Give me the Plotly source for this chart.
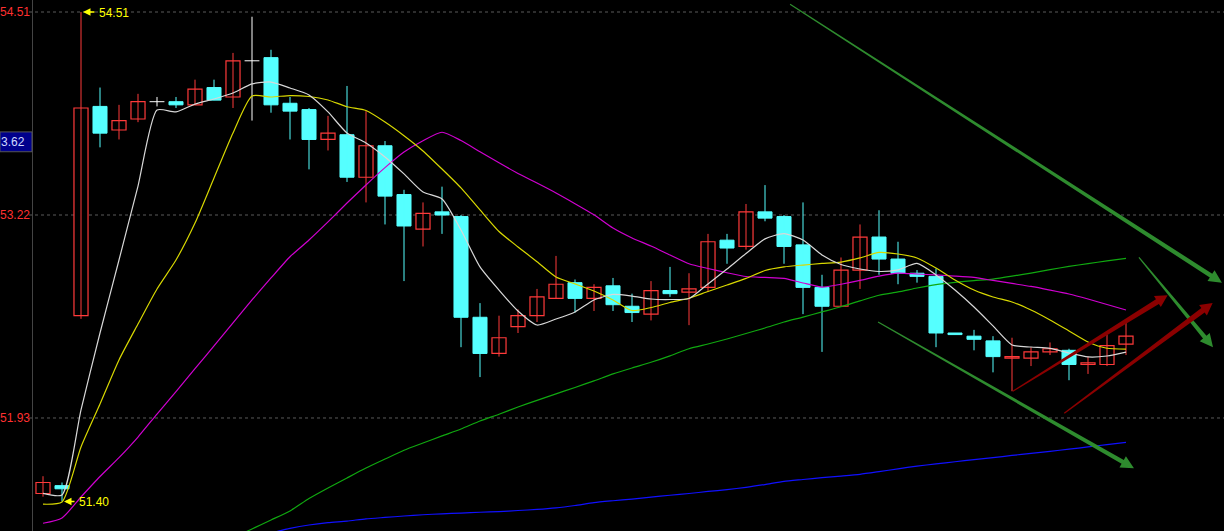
import math
import plotly.graph_objects as go

# ---------------- data ----------------
OPEN = [51.45, 51.50, 52.58, 53.91, 53.76, 53.83, 53.94, 53.94, 53.92, 54.03,
        53.97, 54.20, 54.22, 53.93, 53.89, 53.70, 53.73, 53.46, 53.66, 53.35,
        53.13, 53.24, 53.21, 52.57, 52.34, 52.51, 52.58, 52.69, 52.79, 52.69,
        52.77, 52.64, 52.59, 52.74, 52.73, 52.76, 53.06, 53.02, 53.24, 53.21,
        53.03, 52.76, 52.64, 52.87, 53.08, 52.94, 52.85, 52.83, 52.47, 52.45,
        52.42, 52.31, 52.31, 52.35, 52.36, 52.27, 52.27, 52.40]
HIGH = [51.56, 51.52, 54.51, 54.03, 53.92, 53.99, 53.97, 53.97, 54.08, 54.08,
        54.25, 54.48, 54.27, 53.97, 53.90, 53.85, 54.04, 53.88, 53.69, 53.38,
        53.30, 53.40, 53.22, 52.66, 52.58, 52.62, 52.75, 52.96, 52.81, 52.78,
        52.82, 52.72, 52.80, 52.89, 52.85, 53.10, 53.10, 53.29, 53.41, 53.22,
        53.30, 52.84, 52.95, 53.16, 53.25, 53.05, 52.87, 52.88, 52.47, 52.49,
        52.45, 52.44, 52.38, 52.41, 52.37, 52.32, 52.46, 52.54]
LOW = [51.43, 51.40, 52.56, 53.65, 53.70, 53.81, 53.91, 53.90, 53.92, 53.95,
       53.90, 53.82, 53.87, 53.70, 53.51, 53.63, 53.43, 53.30, 53.16, 52.80,
       53.02, 53.10, 52.38, 52.19, 52.32, 52.47, 52.54, 52.69, 52.60, 52.61,
       52.61, 52.54, 52.55, 52.70, 52.52, 52.73, 52.91, 53.00, 53.18, 52.91,
       52.59, 52.35, 52.64, 52.75, 52.84, 52.78, 52.79, 52.38, 52.46, 52.36,
       52.22, 52.10, 52.26, 52.33, 52.17, 52.21, 52.26, 52.33]
CLOSE = [51.52, 51.48, 53.90, 53.74, 53.82, 53.94, 53.94, 53.92, 54.02, 53.95,
         54.20, 54.20, 53.92, 53.88, 53.70, 53.74, 53.46, 53.66, 53.34, 53.15,
         53.23, 53.22, 52.57, 52.34, 52.44, 52.58, 52.70, 52.78, 52.69, 52.76,
         52.65, 52.60, 52.74, 52.72, 52.75, 53.05, 53.01, 53.24, 53.20, 53.02,
         52.76, 52.64, 52.87, 53.08, 52.94, 52.85, 52.83, 52.47, 52.46, 52.43,
         52.32, 52.32, 52.35, 52.37, 52.27, 52.28, 52.39, 52.45]

MA_WHITE = [51.451, 51.441, 51.981, 52.470, 52.934, 53.404, 53.887, 53.875, 53.925, 53.957,
            53.995, 54.053, 54.065, 54.027, 53.983, 53.875, 53.741, 53.678, 53.589, 53.481,
            53.366, 53.322, 53.125, 52.890, 52.743, 52.610, 52.521, 52.559, 52.604, 52.680,
            52.715, 52.705, 52.686, 52.683, 52.689, 52.782, 52.877, 52.975, 53.068, 53.102,
            53.061, 52.966, 52.905, 52.877, 52.861, 52.871, 52.912, 52.839, 52.743, 52.635,
            52.515, 52.394, 52.381, 52.372, 52.343, 52.318, 52.324, 52.349]
MA_YELLOW = [51.382, 51.396, 51.746, 52.019, 52.299, 52.527, 52.750, 52.934, 53.169, 53.455,
             53.741, 53.976, 53.970, 53.979, 53.973, 53.951, 53.908, 53.884, 53.811, 53.724,
             53.627, 53.512, 53.392, 53.252, 53.115, 53.017, 52.923, 52.826, 52.782, 52.737,
             52.680, 52.613, 52.632, 52.664, 52.691, 52.734, 52.775, 52.817, 52.867, 52.890,
             52.902, 52.912, 52.921, 52.947, 52.982, 52.972, 52.947, 52.883, 52.807, 52.743,
             52.699, 52.667, 52.616, 52.553, 52.483, 52.413, 52.373, 52.367]
MA_MAGENTA = [51.261, 51.295, 51.428, 51.558, 51.678, 51.809, 51.955, 52.098, 52.243, 52.388,
              52.534, 52.680, 52.820, 52.955, 53.061, 53.176, 53.296, 53.411, 53.521, 53.620,
              53.692, 53.746, 53.693, 53.622, 53.552, 53.484, 53.423, 53.360, 53.292, 53.221,
              53.137, 53.074, 53.023, 52.966, 52.910, 52.880, 52.853, 52.829, 52.823, 52.817,
              52.788, 52.762, 52.780, 52.804, 52.832, 52.851, 52.845, 52.839, 52.832, 52.823,
              52.804, 52.785, 52.766, 52.743, 52.718, 52.686, 52.651, 52.616]
MA_GREEN = [None] * 10 + [
    51.167, 51.225, 51.282, 51.339, 51.418, 51.485, 51.549, 51.612, 51.669, 51.725,
    51.771, 51.816, 51.860, 51.911, 51.954, 52.000, 52.042, 52.083, 52.124, 52.166,
    52.210, 52.248, 52.284, 52.325, 52.370, 52.400, 52.432, 52.467, 52.502, 52.540,
    52.571, 52.604, 52.637, 52.674, 52.710, 52.731, 52.756, 52.778, 52.792, 52.803,
    52.813, 52.831, 52.851, 52.873, 52.893, 52.911, 52.928, 52.944]
MA_BLUE = [None] * 12 + [
    51.199, 51.228, 51.250, 51.265, 51.275, 51.289, 51.298, 51.307, 51.315, 51.321,
    51.326, 51.331, 51.335, 51.342, 51.349, 51.359, 51.374, 51.392, 51.404, 51.415,
    51.427, 51.439, 51.450, 51.463, 51.475, 51.489, 51.507, 51.527, 51.539, 51.551,
    51.561, 51.572, 51.589, 51.607, 51.624, 51.638, 51.652, 51.665, 51.678, 51.692,
    51.705, 51.718, 51.732, 51.746, 51.761, 51.775]

GRID_LEVELS = [54.51, 53.22, 51.93]
GRID_LABELS = ["54.51", "53.22", "51.93"]

# hand-drawn trend arrows (candle index, price)
GREEN_ARROWS = [((39.32, 54.56), (62.05, 52.79)),
                ((57.68, 52.95), (61.58, 52.38)),
                ((43.95, 52.54), (57.42, 51.61))]
RED_ARROWS = [((51.04, 52.10), (59.19, 52.71)),
              ((53.75, 51.96), (61.56, 52.66))]

# ---------------- layout constants ----------------
W, H = 1224, 531
XR = [-43 / 19, (W - 43) / 19]
YR = [51.2118, 54.5863]

RED = "#ff3a3a"
CYAN = "#55ffff"
N = len(OPEN)
X = list(range(N))


def to_px(x, y):
    return ((x - XR[0]) / (XR[1] - XR[0]) * W, (YR[1] - y) / (YR[1] - YR[0]) * H)


def to_data(px, py):
    return (XR[0] + px / W * (XR[1] - XR[0]), YR[1] - py / H * (YR[1] - YR[0]))


fig = go.Figure()

# wicks
groups = {"up": ([], []), "down": ([], []), "flat": ([], [])}
for i in range(N):
    kind = "up" if CLOSE[i] > OPEN[i] else ("down" if CLOSE[i] < OPEN[i] else "flat")
    gx, gy = groups[kind]
    gx += [i, i, None]
    gy += [LOW[i], HIGH[i], None]
    if kind == "flat":
        gx += [i - 0.39, i + 0.39, None]
        gy += [OPEN[i], OPEN[i], None]
wick_colors = {"up": RED, "down": CYAN, "flat": "#ffffff"}
for k, (gx, gy) in groups.items():
    fig.add_trace(go.Scatter(x=gx, y=gy, mode="lines",
                             line=dict(color=wick_colors[k], width=1),
                             hoverinfo="skip", showlegend=False))

# bodies
up = [i for i in range(N) if CLOSE[i] > OPEN[i]]
dn = [i for i in range(N) if CLOSE[i] < OPEN[i]]
fig.add_trace(go.Bar(x=up, y=[CLOSE[i] - OPEN[i] for i in up], base=[OPEN[i] for i in up],
                     width=0.74, marker=dict(color="#000000", line=dict(color=RED, width=1.2)),
                     hoverinfo="skip", showlegend=False))
fig.add_trace(go.Bar(x=dn, y=[OPEN[i] - CLOSE[i] for i in dn], base=[CLOSE[i] for i in dn],
                     width=0.74, marker=dict(color=CYAN, line=dict(color=CYAN, width=1)),
                     hoverinfo="skip", showlegend=False))

# moving-average style lines
for vals, col in [(MA_BLUE, "#1010ff"), (MA_GREEN, "#10a810"), (MA_MAGENTA, "#d000d0"),
                  (MA_YELLOW, "#d8d800"), (MA_WHITE, "#d8d8d8")]:
    fig.add_trace(go.Scatter(x=X, y=vals, mode="lines",
                             line=dict(color=col, width=1.2, shape="spline", smoothing=0.6),
                             hoverinfo="skip", showlegend=False, connectgaps=False))

shapes = []
# grid lines
for lv in GRID_LEVELS:
    shapes.append(dict(type="line", xref="paper", yref="y", x0=29 / W, x1=1, y0=lv, y1=lv,
                       line=dict(color="#5a5a5a", width=1, dash="dot"), layer="below"))
# left axis separator
shapes.append(dict(type="line", xref="paper", yref="paper", x0=32.5 / W, x1=32.5 / W, y0=0, y1=1,
                   line=dict(color="#444444", width=1)))


def arrow_path(p0, p1, w0, w1, hl, hw):
    sx, sy = to_px(*p0)
    ex, ey = to_px(*p1)
    dx, dy = ex - sx, ey - sy
    L = math.hypot(dx, dy)
    ux, uy = dx / L, dy / L
    nx, ny = -uy, ux
    bx, by = ex - ux * hl, ey - uy * hl
    pts = [(sx + nx * w0 / 2, sy + ny * w0 / 2), (bx + nx * w1 / 2, by + ny * w1 / 2),
           (bx + nx * hw, by + ny * hw), (ex, ey), (bx - nx * hw, by - ny * hw),
           (bx - nx * w1 / 2, by - ny * w1 / 2), (sx - nx * w0 / 2, sy - ny * w0 / 2)]
    d = [to_data(px, py) for px, py in pts]
    return "M " + " L ".join(f"{a:.4f},{b:.4f}" for a, b in d) + " Z"


for p0, p1 in GREEN_ARROWS:
    shapes.append(dict(type="path", xref="x", yref="y", path=arrow_path(p0, p1, 1.2, 4.5, 13, 6.5),
                       fillcolor="#2e8b2e", line=dict(width=0)))
for p0, p1 in RED_ARROWS:
    shapes.append(dict(type="path", xref="x", yref="y", path=arrow_path(p0, p1, 1.2, 5.5, 12, 6.5),
                       fillcolor="#8b0000", line=dict(width=0)))

# current-price box
shapes.append(dict(type="rect", xref="paper", yref="y", x0=0, x1=32 / W, y0=53.622, y1=53.748,
                   fillcolor="#00008c", line=dict(color="#555555", width=1)))

LABEL_FONT = dict(family="Liberation Sans, Arial", size=12)
annotations = []
for lv, lab in zip(GRID_LEVELS, GRID_LABELS):
    annotations.append(dict(xref="paper", yref="y", x=30.5 / W, y=lv, text=lab, showarrow=False,
                            xanchor="right", yanchor="middle", xshift=1,
                            font=dict(color="#ff3030", **LABEL_FONT)))
annotations.append(dict(xref="paper", yref="y", x=0, y=53.685, text="3.62", showarrow=False,
                        xanchor="left", yanchor="middle", xshift=-1,
                        font=dict(color="#d0d8ff", **LABEL_FONT)))

hi_i = HIGH.index(max(HIGH))
lo_i = LOW.index(min(LOW))
for idx, val, ax in [(hi_i, max(HIGH), 15), (lo_i, min(LOW), 14)]:
    annotations.append(dict(xref="x", yref="y", x=idx, y=val, ax=ax, ay=0, text="",
                            showarrow=True, arrowhead=2, arrowsize=1, arrowwidth=1.5,
                            arrowcolor="#ffff00", standoff=2))
    annotations.append(dict(xref="x", yref="y", x=idx, y=val, text=f"{val:.2f}", showarrow=False,
                            xanchor="left", yanchor="middle", xshift=ax + 1, yshift=-1,
                            font=dict(color="#ffff00", **LABEL_FONT)))

fig.update_layout(
    width=W, height=H, margin=dict(l=0, r=0, t=0, b=0),
    paper_bgcolor="#000000", plot_bgcolor="#000000",
    barmode="overlay", hovermode=False, showlegend=False,
    xaxis=dict(range=XR, visible=False, fixedrange=True),
    yaxis=dict(range=YR, visible=False, fixedrange=True),
    shapes=shapes, annotations=annotations,
)

fig.write_html("out.html", config={"displayModeBar": False},
               post_script="document.body.style.margin='0';document.body.style.overflow='hidden';")
